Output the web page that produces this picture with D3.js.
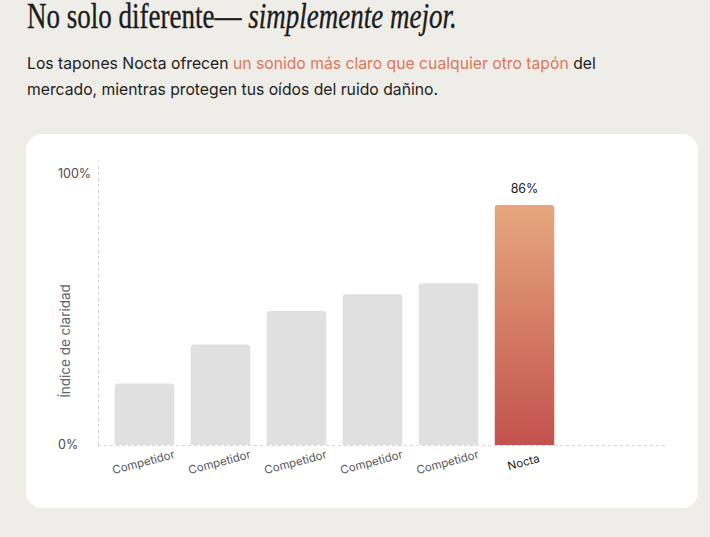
<!DOCTYPE html>
<html>
<head>
<meta charset="utf-8">
<script src="https://cdn.jsdelivr.net/npm/d3@7"></script>
<style>
  html, body { margin: 0; padding: 0; background: #efede8; }
  svg { display: block; }
</style>
</head>
<body>
<svg id="chart" width="710" height="537"></svg>
<script>
// chart data
var categories = ["Competidor", "Competidor", "Competidor", "Competidor", "Competidor", "Nocta"];
var values = [22, 36, 48, 54, 58, 86];
var highlight = "Nocta";
var yTickLabels = ["0%", "100%"];
var yTickValues = [0, 100];

var svg = d3.select("#chart");

// squeeze a text horizontally so it spans the given width
function fitWidth(sel, x0, width) {
  var w = sel.node().getComputedTextLength();
  var k = width / w;
  sel.attr("transform", "translate(" + x0 + ",0) scale(" + k + ",1)").attr("x", 0);
  return k;
}

// header text
var title = svg.append("text")
  .attr("y", 28)
  .attr("font-family", "'Liberation Serif', serif")
  .attr("font-size", 36)
  .attr("fill", "#1c1c1c")
  .attr("stroke", "#1c1c1c")
  .attr("stroke-width", 0.35)
  .call(function(t) {
    t.append("tspan").text("No solo diferente\u2014 ");
    t.append("tspan").attr("font-style", "italic").text("simplemente mejor.");
  });
fitWidth(title, 27, 430);

var sub = svg.append("g")
  .attr("font-family", "Inter, sans-serif")
  .attr("font-size", 16.5)
  .attr("fill", "#222");
var line1 = sub.append("text").attr("y", 69)
  .call(function(t) {
    t.append("tspan").text("Los tapones Nocta ofrecen ");
    t.append("tspan").attr("fill", "#d9785b").text("un sonido más claro que cualquier otro tapón");
    t.append("tspan").text(" del");
  });
var k = fitWidth(line1, 27, 569);
sub.append("text").attr("y", 95)
  .attr("transform", "translate(27,0) scale(" + k + ",1)")
  .text("mercado, mientras protegen tus oídos del ruido dañino.");

// card
svg.append("rect")
  .attr("x", 26).attr("y", 134)
  .attr("width", 672).attr("height", 374)
  .attr("rx", 16)
  .attr("fill", "#fff");

var margin = {top: 166, left: 98, bottom: 445, right: 668};

var x = d3.scaleBand()
  .domain(d3.range(categories.length))
  .range([margin.left, 571])
  .paddingInner(0.217)
  .paddingOuter(0.22);

var y = d3.scaleLinear()
  .domain([0, 100])
  .range([margin.bottom, margin.top]);

var defs = svg.append("defs");
var grad = defs.append("linearGradient")
  .attr("id", "noctaGrad")
  .attr("x1", 0).attr("y1", 0).attr("x2", 0).attr("y2", 1);
grad.append("stop").attr("offset", "0%").attr("stop-color", "#e6a77d");
grad.append("stop").attr("offset", "100%").attr("stop-color", "#c2524d");

var g = svg.append("g");

// dashed axis lines
g.append("line")
  .attr("x1", margin.left + 0.5).attr("x2", margin.left + 0.5)
  .attr("y1", y(100)).attr("y2", y(0))
  .attr("stroke", "#d6d6d6").attr("stroke-dasharray", "3,3");
g.append("line")
  .attr("x1", margin.left).attr("x2", margin.right)
  .attr("y1", y(0) + 0.5).attr("y2", y(0) + 0.5)
  .attr("stroke", "#d6d6d6").attr("stroke-dasharray", "3,3");

// y tick labels (top one sits a little below the axis end)
g.selectAll(".ytick")
  .data(yTickValues)
  .enter().append("text")
  .attr("class", "ytick")
  .attr("x", 58)
  .attr("y", function(d) { return Math.max(y(d), margin.top + 8); })
  .attr("dy", "0.35em")
  .attr("font-family", "Inter, sans-serif")
  .attr("font-size", 12.5)
  .attr("fill", "#4a4a4a")
  .text(function(d, i) { return yTickLabels[i]; });

// y title
g.append("text")
  .attr("transform", "translate(70,341) rotate(-90)")
  .attr("text-anchor", "middle")
  .attr("font-family", "Inter, sans-serif")
  .attr("font-size", 13.5)
  .attr("fill", "#666")
  .text("Índice de claridad");

// bars
g.selectAll(".bar")
  .data(values)
  .enter().append("path")
  .attr("class", "bar")
  .attr("d", function(d, i) {
    var x0 = x(i), w = x.bandwidth(), top = y(d), h = y(0) - y(d), r = 3;
    return "M" + x0 + "," + (top + h) +
      "V" + (top + r) + "Q" + x0 + "," + top + " " + (x0 + r) + "," + top +
      "H" + (x0 + w - r) + "Q" + (x0 + w) + "," + top + " " + (x0 + w) + "," + (top + r) +
      "V" + (top + h) + "Z";
  })
  .attr("fill", function(d, i) { return categories[i] === highlight ? "url(#noctaGrad)" : "#e0e0e0"; });

// value label on highlighted bar
g.selectAll(".val")
  .data(values.map(function(v, i) { return {v: v, i: i}; }).filter(function(d) { return categories[d.i] === highlight; }))
  .enter().append("text")
  .attr("x", function(d) { return x(d.i) + x.bandwidth() / 2; })
  .attr("y", function(d) { return y(d.v) - 12; })
  .attr("text-anchor", "middle")
  .attr("font-family", "Inter, sans-serif")
  .attr("font-size", 12.5)
  .attr("fill", "#222")
  .text(function(d) { return d.v + "%"; });

// category labels
g.selectAll(".xlab")
  .data(categories)
  .enter().append("text")
  .attr("class", "xlab")
  .attr("transform", function(d, i) {
    return "translate(" + (x(i) + x.bandwidth() / 2) + "," + 466 + ") rotate(-15)";
  })
  .attr("text-anchor", "middle")
  .attr("font-family", "Inter, sans-serif")
  .attr("font-size", 11.5)
  .attr("fill", function(d) { return d === highlight ? "#1c1c1c" : "#555"; })
  .text(function(d) { return d; });
</script>
</body>
</html>
